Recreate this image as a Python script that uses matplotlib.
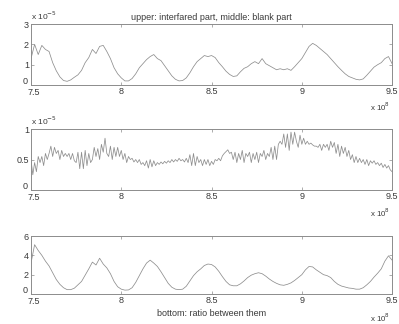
import numpy as np
import matplotlib.pyplot as plt
import matplotlib.transforms as mtrans

plt.rcParams['font.family'] = ['Liberation Sans', 'DejaVu Sans']

# wavenumber grid (x 1e8)
x_coarse = np.linspace(7.5, 9.5, 101)
x_fine = np.linspace(7.5, 9.5, 201)

# interfered part (x 1e-5)
upper = [1.3, 2.0, 1.5, 1.95, 1.75, 1.65, 1.1, 0.7, 0.4, 0.22,
         0.18, 0.25, 0.38, 0.5, 0.72, 1.1, 1.35, 1.75, 1.55, 1.9,
         1.95, 1.65, 1.3, 0.85, 0.55, 0.35, 0.2, 0.2, 0.32, 0.55,
         0.85, 1.05, 1.25, 1.4, 1.5, 1.3, 1.2, 0.95, 0.7, 0.45,
         0.28, 0.2, 0.22, 0.35, 0.6, 0.9, 1.15, 1.3, 1.45, 1.4,
         1.45, 1.35, 1.1, 0.9, 0.68, 0.52, 0.42, 0.45, 0.65, 0.82,
         0.9, 1.05, 1.15, 1.05, 1.3, 1.05, 0.95, 0.85, 0.75, 0.8,
         0.75, 0.8, 0.72, 0.9, 1.1, 1.3, 1.6, 1.9, 2.05, 1.95,
         1.8, 1.65, 1.5, 1.3, 1.1, 0.9, 0.72, 0.55, 0.42, 0.35,
         0.28, 0.25, 0.3, 0.48, 0.68, 0.88, 1.0, 1.1, 1.3, 1.4,
         1.05]

# blank part (x 1e-5)
middle = [0.5, 0.25, 0.45, 0.3, 0.55, 0.45, 0.55, 0.4, 0.6, 0.5,
          0.6, 0.72, 0.55, 0.7, 0.6, 0.65, 0.5, 0.65, 0.55, 0.6,
          0.55, 0.6, 0.5, 0.6, 0.48, 0.45, 0.62, 0.35, 0.62, 0.35,
          0.65, 0.4, 0.6, 0.45, 0.5, 0.7, 0.55, 0.68, 0.5, 0.75,
          0.62, 0.85, 0.6, 0.55, 0.72, 0.5, 0.7, 0.55, 0.7, 0.55,
          0.65, 0.5, 0.6, 0.45, 0.55, 0.5, 0.52, 0.46, 0.5, 0.45,
          0.5, 0.42, 0.45, 0.4, 0.48, 0.36, 0.5, 0.38, 0.48, 0.4,
          0.45, 0.42, 0.46, 0.43, 0.47, 0.44, 0.48, 0.45, 0.5, 0.46,
          0.5, 0.47, 0.52, 0.48, 0.5, 0.46, 0.52, 0.45, 0.58, 0.4,
          0.6, 0.4, 0.55, 0.45, 0.5, 0.4, 0.5, 0.42, 0.5, 0.4,
          0.47, 0.42, 0.5, 0.48, 0.52, 0.48, 0.56, 0.6, 0.63, 0.66,
          0.6, 0.62, 0.5, 0.62, 0.45, 0.6, 0.5, 0.65, 0.45, 0.6,
          0.55, 0.62, 0.45, 0.6, 0.5, 0.62, 0.45, 0.6, 0.55, 0.65,
          0.5, 0.6, 0.55, 0.7, 0.5, 0.72, 0.5, 0.75, 0.8, 0.75,
          0.92, 0.7, 0.92, 0.65, 0.95, 0.75, 0.95, 0.8, 0.7, 0.9,
          0.75, 0.85, 0.75, 0.8, 0.75, 0.77, 0.74, 0.72, 0.72, 0.7,
          0.75, 0.65, 0.75, 0.7, 0.75, 0.65, 0.8, 0.7, 0.78, 0.6,
          0.75, 0.55, 0.72, 0.6, 0.7, 0.55, 0.65, 0.5, 0.58, 0.45,
          0.55, 0.45, 0.52, 0.45, 0.5, 0.42, 0.5, 0.4, 0.48, 0.44,
          0.48, 0.42, 0.45, 0.4, 0.44, 0.37, 0.42, 0.36, 0.4, 0.33,
          0.3]

# ratio
ratio = [3.2, 5.1, 4.5, 4.0, 3.4, 2.9, 2.2, 1.5, 1.0, 0.65,
         0.45, 0.45, 0.6, 0.95, 1.3, 1.95, 2.6, 3.3, 3.0, 3.7,
         3.1, 2.7, 2.1, 1.3, 0.75, 0.5, 0.4, 0.42, 0.65, 1.2,
         1.9, 2.6, 3.2, 3.5, 3.2, 2.85, 2.3, 1.7, 1.1, 0.7,
         0.5, 0.45, 0.5, 0.8, 1.35, 1.9, 2.3, 2.6, 2.95, 3.1,
         3.05, 2.8, 2.35, 1.8, 1.3, 0.95, 0.85, 0.85, 1.05, 1.35,
         1.7, 1.95, 2.1, 2.2, 2.1, 1.85, 1.55, 1.3, 1.1, 0.95,
         0.9, 1.0, 1.15, 1.4, 1.7, 2.0, 2.5, 2.85, 2.8, 2.5,
         2.25, 2.0, 1.9, 1.7, 1.3, 1.0, 0.82, 0.72, 0.62, 0.58,
         0.5, 0.5, 0.65, 0.95, 1.3, 1.75, 2.15, 2.6, 3.4, 3.95,
         3.5]

xticks = [7.5, 8, 8.5, 9, 9.5]
xticklabels = ['7.5', '8', '8.5', '9', '9.5']

line_c = '#8e8e8e'
edge_c = '#8c8c8c'
text_c = '#3a3a3a'
fs = 6.5

fig = plt.figure(figsize=(3.99, 3.24), dpi=100)
rects = [[0.0777, 0.7377, 0.905, 0.188],
         [0.0777, 0.4136, 0.905, 0.188],
         [0.0777, 0.0926, 0.905, 0.179]]

panels = [
    (x_coarse, upper, [0, 3], [0, 1, 2, 3], ['0', '1', '2', '3'], True),
    (x_fine, middle, [0, 1], [0, 0.5, 1], ['0', '0.5', '1'], True),
    (x_coarse, ratio, [0, 6], [0, 2, 4, 6], ['0', '2', '4', '6'], False),
]
expo_y = [-0.36, -0.38, -0.41]

lift = mtrans.ScaledTranslation(-1 / 72, 3 / 72, fig.dpi_scale_trans)
drop = mtrans.ScaledTranslation(2 / 72, -1 / 72, fig.dpi_scale_trans)

axes = []
for rect, (xs, ys, ylim, yt, ytl, expo), ey in zip(rects, panels, expo_y):
    ax = fig.add_axes(rect)
    ax.plot(xs, ys, color=line_c, lw=0.55)
    ax.set_xlim(7.5, 9.5)
    ax.set_ylim(*ylim)
    ax.set_xticks(xticks)
    ax.set_xticklabels(xticklabels)
    ax.set_yticks(yt)
    ax.set_yticklabels(ytl)
    ax.tick_params(direction='in', length=2.5, width=0.5, colors=edge_c,
                   labelcolor=text_c, labelsize=fs, top=True, right=True,
                   pad=1.5)
    # corner labels "0" and "7.5" pulled apart
    lab0 = ax.get_yticklabels()[0]
    lab0.set_transform(lab0.get_transform() + lift)
    labx = ax.get_xticklabels()[0]
    labx.set_transform(labx.get_transform() + drop)
    for s in ax.spines.values():
        s.set_color(edge_c)
        s.set_linewidth(0.7)
    if expo:
        ax.text(0.0, 1.04, r'x 10$^{-5}$', transform=ax.transAxes,
                fontsize=fs - 0.5, color=text_c, ha='left', va='bottom')
    ax.text(0.995, ey, r'x 10$^{8}$', transform=ax.transAxes,
            fontsize=fs - 0.8, color=text_c, ha='right', va='center')
    axes.append(ax)

axes[0].set_title('upper: interfared part, middle: blank part',
                  fontsize=fs, color=text_c, pad=3)
axes[2].set_xlabel('bottom: ratio between them', fontsize=fs,
                   color=text_c, labelpad=2)

fig.savefig('out.png', dpi=100, facecolor='white')
